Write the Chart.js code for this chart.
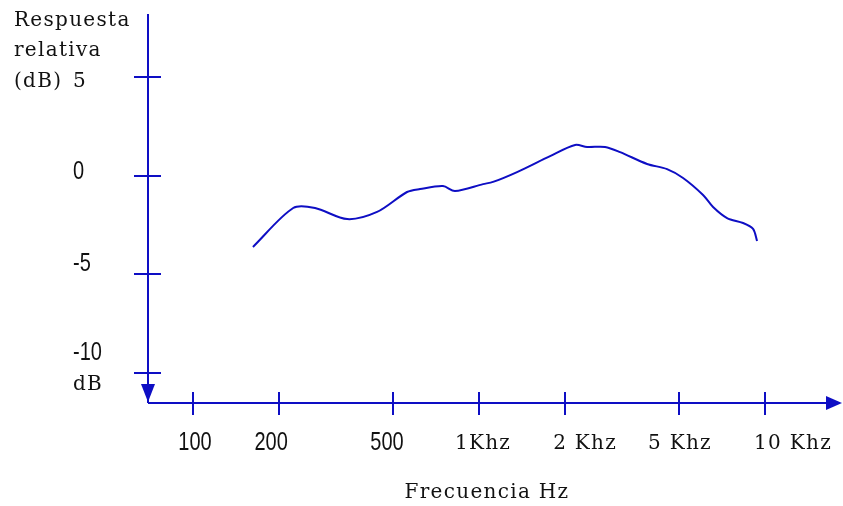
<!DOCTYPE html>
<html>
<head>
<meta charset="utf-8">
<script src="https://cdn.jsdelivr.net/npm/chart.js@4"></script>
<style>
  html, body { margin: 0; padding: 0; background: #fff; }
  #wrap { width: 843px; height: 506px; }
</style>
</head>
<body>
<div id="wrap"><canvas id="respChart"></canvas></div>
<script>
// Respuesta en frecuencia (dB) vs frecuencia (Hz)
const freqHz = [162, 224, 267, 346, 440, 560, 622, 748, 824, 1033, 1119, 1358, 1772, 2167, 2386, 2758, 3112, 3868, 4543, 5168, 6070, 6579, 7364, 8378, 9079, 9376];
const respDb = [-3.61, -1.64, -1.64, -2.2, -1.84, -0.83, -0.68, -0.53, -0.78, -0.43, -0.32, 0.18, 0.99, 1.55, 1.45, 1.45, 1.19, 0.59, 0.33, -0.12, -0.98, -1.59, -2.15, -2.4, -2.7, -3.31];
const xTickFreqs = [100, 200, 500, 1000, 2000, 5000, 10000];
const xTickLabels = ['100', '200', '500', '1Khz', '2 Khz', '5 Khz', '10 Khz'];
const yTickValues = [5, 0, -5, -10];
const yTickLabels = ['5', '0', '-5', '-10'];

// ajustes de posicion de las etiquetas (px)
const xLabelShift = [2, -8, -6, 4, 20, 1, 28];
const yLabelShift = [5, -4, -11, -20];

const blue = 'rgb(14, 14, 196)';
const serif = "20px 'DejaVu Serif'";
const sans = "20px 'Liberation Sans'";

// texto serif con algo de espaciado
function serifText(ctx, txt, x, y) {
    ctx.font = serif;
    ctx.letterSpacing = '1.3px';
    ctx.fillText(txt, x, y);
    ctx.letterSpacing = '0px';
}

// numeros altos y estrechos
function numText(ctx, txt, x, y) {
    ctx.save();
    ctx.font = sans;
    ctx.translate(x, y);
    ctx.scale(1, 1.3);
    ctx.fillText(txt, 0, 0);
    ctx.restore();
}

const axesPlugin = {
    id: 'axesPlugin',
    afterDraw(chart) {
        const ctx = chart.ctx;
        const a = chart.chartArea;
        const x = chart.scales.x;
        const y = chart.scales.y;
        ctx.save();
        ctx.strokeStyle = blue;
        ctx.fillStyle = blue;
        ctx.lineWidth = 2;
        // ejes
        ctx.beginPath();
        ctx.moveTo(a.left, a.top);
        ctx.lineTo(a.left, a.bottom);
        ctx.moveTo(a.left, a.bottom);
        ctx.lineTo(a.right - 8, a.bottom);
        // marcas eje y
        yTickValues.forEach(v => {
            const py = Math.round(y.getPixelForValue(v));
            ctx.moveTo(a.left - 14, py);
            ctx.lineTo(a.left + 13, py);
        });
        // marcas eje x
        xTickFreqs.forEach(f => {
            const px = Math.round(x.getPixelForValue(f));
            ctx.moveTo(px, a.bottom - 11);
            ctx.lineTo(px, a.bottom + 12);
        });
        ctx.stroke();
        // flechas
        ctx.beginPath();
        ctx.moveTo(a.left - 7, a.bottom - 19);
        ctx.lineTo(a.left + 7, a.bottom - 19);
        ctx.lineTo(a.left, a.bottom - 1);
        ctx.closePath();
        ctx.fill();
        ctx.beginPath();
        ctx.moveTo(a.right - 14, a.bottom - 7);
        ctx.lineTo(a.right - 14, a.bottom + 7);
        ctx.lineTo(a.right + 2, a.bottom);
        ctx.closePath();
        ctx.fill();

        // etiquetas
        ctx.fillStyle = '#111';
        ctx.textBaseline = 'middle';
        ctx.textAlign = 'center';
        xTickFreqs.forEach((f, i) => {
            const px = x.getPixelForValue(f) + xLabelShift[i];
            if (/Khz/.test(xTickLabels[i])) serifText(ctx, xTickLabels[i], px, a.bottom + 41);
            else numText(ctx, xTickLabels[i], px, a.bottom + 40);
        });
        ctx.textAlign = 'left';
        yTickValues.forEach((v, i) => {
            const py = y.getPixelForValue(v) + yLabelShift[i];
            if (i === 0) serifText(ctx, yTickLabels[i], a.left - 75, py);
            else numText(ctx, yTickLabels[i], a.left - 75, py);
        });
        const py5 = y.getPixelForValue(5) + yLabelShift[0];
        serifText(ctx, 'Respuesta', 14, py5 - 61);
        serifText(ctx, 'relativa', 14, py5 - 31);
        serifText(ctx, '(dB)', 14, py5);
        serifText(ctx, 'dB', a.left - 75, y.getPixelForValue(-10) + 12);
        ctx.textAlign = 'center';
        serifText(ctx, 'Frecuencia Hz', 487, a.bottom + 90);
        ctx.restore();
    }
};

const respCtx = document.getElementById('respChart').getContext('2d');
const respChart = new Chart(respCtx, {
    type: 'line',
    data: {
        datasets: [{
            label: 'Respuesta relativa',
            data: freqHz.map((f, i) => ({x: f, y: respDb[i]})),
            borderColor: blue,
            borderWidth: 2,
            pointRadius: 0,
            fill: false,
            tension: 0.3
        }]
    },
    options: {
        responsive: true,
        maintainAspectRatio: false,
        animation: false,
        layout: {
            padding: {left: 148, right: 3, top: 14, bottom: 103}
        },
        plugins: {
            legend: {display: false},
            tooltip: {enabled: false}
        },
        scales: {
            x: {
                type: 'logarithmic',
                min: 69.6,
                max: 18280,
                display: false
            },
            y: {
                min: -11.51,
                max: 8.18,
                display: false
            }
        }
    },
    plugins: [axesPlugin]
});
</script>
</body>
</html>
